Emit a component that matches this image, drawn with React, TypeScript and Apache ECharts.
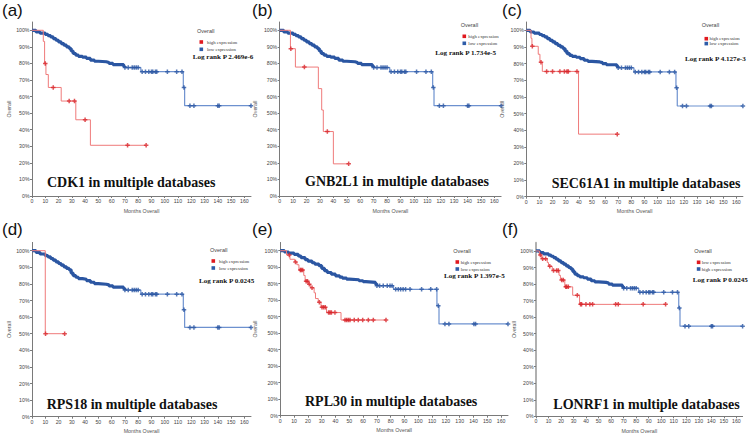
import React, { useEffect, useRef } from "react";
import * as echarts from "echarts";

// ---------- tick labels ----------
const monthTicks = [0, 10, 20, 30, 40, 50, 60, 70, 80, 90, 100, 110, 120, 130, 140, 150, 160];
const percentTicks = [0, 10, 20, 30, 40, 50, 60, 70, 80, 90, 100];

// ---------- texts ----------
const panelLetters = ["(a)", "(b)", "(c)", "(d)", "(e)", "(f)"];
const geneNames = ["CDK1", "GNB2L1", "SEC61A1", "RPS18", "RPL30", "LONRF1"];
const pValues = ["2.469e-6", "1.734e-5", "4.127e-3", "0.0245", "1.397e-5", "0.0245"];
const redLabels = ["high expression", "high expression", "high expression", "high expression", "high expression", "low expression"];
const blueLabels = ["low expression", "low expression", "low expression", "low expression", "low expression", "high expression"];

// ---------- survival data: [months, survival %] step points ----------
// blue group shared by panels a, b, c, f
const cohortSteps: [number, number][] = [
  [0, 100], [3, 99], [6, 98.3], [10, 97.5], [12, 96.8], [14, 96], [16, 95], [18, 94], [20, 93], [22, 92],
  [24, 91], [26, 90], [28, 89], [29.5, 87.5], [31, 86], [33, 85], [35, 84.3], [38, 83.8], [41, 83], [44, 82],
  [47, 81.3], [50, 81], [56, 80.6], [58, 80], [61, 79.3], [69, 78.3], [70, 77.5], [82, 75], [114, 65.5],
  [115, 54.5], [165, 54.5],
];
const cohortCensor = [70, 72.5, 75.5, 77, 78.5, 80, 83, 85.5, 88, 90, 91, 93, 94, 102, 109, 113, 114.5, 119, 122, 140, 141, 165];

const rps18LowSteps: [number, number][] = [
  [0, 100], [3, 99], [6, 98], [10, 97], [12, 96.3], [14, 95.3], [16, 94.3], [18, 93.3], [20, 92.3], [22, 91.3],
  [24, 90.3], [26, 89.3], [28, 88.5], [29.5, 86.5], [31, 85], [33, 84], [35, 83.2], [38, 82.8], [41, 82], [44, 81],
  [47, 80.2], [50, 79.8], [56, 79.4], [58, 78.8], [61, 78], [69, 77.2], [70, 76.3], [82, 73.8], [114, 64.5],
  [115, 53.8], [165, 53.8],
];
const rpl30LowSteps: [number, number][] = [
  [0, 100], [3, 99.2], [6, 98.5], [10, 97.8], [13, 96.8], [15, 95.8], [18, 94.6], [20, 93.7], [23, 92.7], [25, 91.9],
  [28, 90.9], [30, 89.3], [32, 87.9], [34, 86.8], [37, 85.8], [40, 84.8], [43, 84], [45, 83.4], [48, 82.8], [50, 82.4],
  [57, 81.8], [60, 81.2], [62, 80.8], [69, 79.8], [70, 78.8], [82, 76.6], [113.5, 66.7], [115, 55.6], [165, 55.6],
];
const rpl30LowCensor = [70, 72, 74.6, 77.5, 79.5, 81, 83.6, 85.5, 87.2, 89, 90.8, 94, 102.4, 109, 113.3, 114.5, 119.3, 122.2, 140.3, 141.5, 165];

const cdk1HighSteps: [number, number][] = [
  [0, 100], [8.5, 93.3], [9.5, 80], [10.5, 73.3], [12.3, 65.5], [22, 57.3], [33, 46], [44, 30.6], [86, 30.6],
];
const cdk1HighCensor = [10, 16, 28, 32, 40, 72, 86];

const gnb2l1HighSteps: [number, number][] = [
  [0, 100], [8, 88.9], [11.7, 77.8], [28.8, 64.8], [31.3, 51.9], [32.5, 38.9], [40, 19.4], [51.4, 19.4],
];
const gnb2l1HighCensor = [8.3, 18.4, 35.5, 51.4];

const sec61a1HighSteps: [number, number][] = [
  [0, 100], [3.6, 95.2], [4.3, 90.4], [9.1, 85.6], [10.4, 80.8], [12.2, 75.3], [39.8, 37.6], [69.3, 37.6],
];
const sec61a1HighCensor = [4.6, 11.2, 15.5, 20, 25.6, 29, 31, 32, 38.6, 69.3];

const rps18HighSteps: [number, number][] = [[0, 100], [10, 50], [24.6, 50]];
const rps18HighCensor = [10.2, 24.6];

const rpl30HighSteps: [number, number][] = [
  [0, 100], [4.5, 97.4], [7, 94.8], [10.5, 93.2], [12, 91.5], [13.5, 88.3], [17, 85], [18, 81.5], [20.5, 79.6],
  [22, 77.5], [24.5, 74.5], [25.5, 71], [27.5, 68.8], [29.5, 65.8], [33.5, 62.5], [44, 58], [76.6, 58],
];
const rpl30HighCensor = [
  6.5, 11, 14.5, 15.2, 16.2, 18.7, 19.7, 21, 23, 28.3, 30.2, 31.4, 32.6, 35, 36, 37, 39.6,
  46.9, 48.1, 49.3, 50.5, 53.6, 56.5, 59.7, 63.8, 67.4, 76.6,
];

const lonrf1RedSteps: [number, number][] = [
  [0, 100], [2.7, 97.6], [4.3, 95.3], [9, 93], [10, 90.7], [13, 88.2], [18.4, 85.3], [19.5, 82.5], [23, 78.3],
  [29.3, 73.2], [34.8, 67.7], [103.5, 67.7],
];
const lonrf1RedCensor = [3.5, 5.3, 7.7, 11, 14, 16.5, 17.8, 20.5, 21.8, 23.8, 24.5, 25.8, 33, 35.6, 36.4, 39.9, 43, 45.2, 63.6, 65.7, 85.6, 103.5];

const redSteps = [cdk1HighSteps, gnb2l1HighSteps, sec61a1HighSteps, rps18HighSteps, rpl30HighSteps, lonrf1RedSteps];
const redCensor = [cdk1HighCensor, gnb2l1HighCensor, sec61a1HighCensor, rps18HighCensor, rpl30HighCensor, lonrf1RedCensor];
const blueSteps = [cohortSteps, cohortSteps, cohortSteps, rps18LowSteps, rpl30LowSteps, cohortSteps];
const blueCensor = [cohortCensor, cohortCensor, cohortCensor, cohortCensor, rpl30LowCensor, cohortCensor];

// ---------- layout (styles, not data) ----------
const grids = [
  { left: 32, top: 22, width: 219, height: 174, nameGap: 21 },
  { left: 279.7, top: 22, width: 221.4, height: 174, nameGap: 22 },
  { left: 526.3, top: 22, width: 216.6, height: 174.7, nameGap: 21.5 },
  { left: 32, top: 242.4, width: 219, height: 174.3, nameGap: 21 },
  { left: 280.3, top: 242.45, width: 227.7, height: 173.25, nameGap: 23 },
  { left: 536, top: 242.7, width: 206.6, height: 173.6, nameGap: 19.5 },
];
const letterPos = [[2, 10], [252, 10], [502, 10], [2, 229], [252, 229], [502, 229]];
const titlePos = [[47, 182], [305, 181], [551.7, 183], [46.7, 404.7], [305, 401.7], [553.3, 404]];
const pPos = [[192.7, 56.7], [435.3, 52.7], [685, 59.3], [199, 280.7], [444, 276.3], [692.7, 279.7]];
// [overallX, overallY, squareX, redY, blueY, textX]
const legendPos = [
  [197, 31, 199.5, 42, 49.3, 207],
  [460.7, 25, 462.5, 36.3, 43.3, 468.3],
  [701.7, 25, 704.5, 38.7, 43.6, 709.5],
  [210, 249.7, 211.5, 261, 268, 219],
  [453.3, 251.3, 455.5, 262, 269, 460.7],
  [694.3, 251.3, 696.8, 262.3, 269, 701.7],
];

const RED_LINE = "#ef7a7a";
const RED_MARK = "#d8262b";
const BLUE_THIN = "#6d91cf";
const BLUE_DARK = "#2b56a2";
const DENSE_UNTIL = 70;
const PLUS = "path://M3,0h3v3h3v3h-3v3h-3v-3h-3v-3h3z";
const SANS = '"Liberation Sans", Arial, sans-serif';
const SERIF = '"Liberation Serif", "Times New Roman", serif';

function survAt(steps: [number, number][], t: number): number {
  let s = steps[0][1];
  for (const [x, y] of steps) {
    if (x <= t) s = y;
    else break;
  }
  return s;
}

function buildOption() {
  const grid: any[] = [];
  const xAxis: any[] = [];
  const yAxis: any[] = [];
  const series: any[] = [];
  const graphic: any[] = [];

  grids.forEach((g, i) => {
    grid.push({ left: g.left, top: g.top, width: g.width, height: g.height, containLabel: false, outerBoundsMode: "none" });
    const axisColor = i === 5 ? "#b0b0b0" : "#7a7a7a";
    xAxis.push({
      gridIndex: i, type: "value", min: 0, max: 165,
      name: "Months Overall", nameLocation: "middle", nameGap: 12,
      nameTextStyle: { fontSize: 5.3, color: "#555", fontFamily: SANS },
      axisLine: { show: true, onZero: false, lineStyle: { color: "#7a7a7a", width: 1 } },
      axisTick: { show: true, length: 2, customValues: monthTicks, lineStyle: { color: "#7a7a7a" } },
      axisLabel: { customValues: monthTicks, fontSize: 5.2, color: "#444", margin: 2.5, fontFamily: SANS },
      splitLine: { show: false },
    });
    yAxis.push({
      gridIndex: i, type: "value", min: 0, max: 105,
      name: "Overall", nameLocation: "middle", nameGap: g.nameGap, nameRotate: 90,
      nameTextStyle: { fontSize: 5.3, color: "#555", fontFamily: SANS },
      axisLine: { show: true, lineStyle: { color: axisColor, width: i === 5 ? 2 : 1 } },
      axisTick: { show: true, length: 2, customValues: percentTicks, lineStyle: { color: "#7a7a7a" } },
      axisLabel: { customValues: percentTicks, formatter: "{value}%", fontSize: 5.2, color: "#444", margin: 2.5, fontFamily: SANS },
      splitLine: { show: false },
    });

    const bSteps = blueSteps[i];
    series.push({
      type: "line", xAxisIndex: i, yAxisIndex: i, step: "end", data: bSteps, symbol: "none",
      lineStyle: { color: BLUE_THIN, width: 1.2 }, z: 2,
    });
    series.push({
      type: "line", xAxisIndex: i, yAxisIndex: i, step: "end",
      data: bSteps.filter((p) => p[0] <= DENSE_UNTIL), symbol: "none",
      lineStyle: { color: BLUE_DARK, width: 3.2, cap: "butt" }, z: 3,
    });
    series.push({
      type: "scatter", xAxisIndex: i, yAxisIndex: i, clip: false,
      data: blueCensor[i].map((t) => [t, survAt(bSteps, t)]),
      symbol: PLUS, symbolSize: 4.5, itemStyle: { color: BLUE_DARK }, z: 4,
    });
    const rSteps = redSteps[i];
    series.push({
      type: "line", xAxisIndex: i, yAxisIndex: i, step: "end", data: rSteps, symbol: "none",
      lineStyle: { color: RED_LINE, width: 1 }, z: 5,
    });
    series.push({
      type: "scatter", xAxisIndex: i, yAxisIndex: i, clip: false,
      data: redCensor[i].map((t) => [t, survAt(rSteps, t)]),
      symbol: PLUS, symbolSize: 4.5, itemStyle: { color: RED_MARK }, z: 6,
    });

    // panel letter
    graphic.push({
      type: "text", x: letterPos[i][0], y: letterPos[i][1],
      style: { text: panelLetters[i], fontSize: 17, fontFamily: SANS, fill: "#111", verticalAlign: "middle", align: "left" },
    });
    // big title
    graphic.push({
      type: "text", x: titlePos[i][0], y: titlePos[i][1], z: 10,
      style: { text: `${geneNames[i]} in multiple databases`, fontSize: 14, fontWeight: "bold", fontFamily: SERIF, fill: "#111", verticalAlign: "middle", align: "left" },
    });
    // log rank
    graphic.push({
      type: "text", x: pPos[i][0], y: pPos[i][1], z: 10,
      style: { text: `Log rank P ${pValues[i]}`, fontSize: 7.1, fontWeight: "bold", fontFamily: SERIF, fill: "#111", verticalAlign: "middle", align: "left" },
    });
    // legend
    const [ox, oy, sx, ry, by, tx] = legendPos[i];
    graphic.push({
      type: "text", x: ox, y: oy,
      style: { text: "Overall", fontSize: 5.5, fontFamily: SANS, fill: "#444", verticalAlign: "middle", align: "left" },
    });
    graphic.push({ type: "rect", shape: { x: sx, y: ry - 1.8, width: 3.6, height: 3.6 }, style: { fill: "#e0191f" } });
    graphic.push({ type: "rect", shape: { x: sx, y: by - 1.8, width: 3.6, height: 3.6 }, style: { fill: "#2e5ca8" } });
    graphic.push({
      type: "text", x: tx, y: ry,
      style: { text: redLabels[i], fontSize: 4.8, fontFamily: SERIF, fill: "#333", verticalAlign: "middle", align: "left" },
    });
    graphic.push({
      type: "text", x: tx, y: by,
      style: { text: blueLabels[i], fontSize: 4.8, fontFamily: SERIF, fill: "#333", verticalAlign: "middle", align: "left" },
    });
  });

  return { animation: false, backgroundColor: "#ffffff", grid, xAxis, yAxis, series, graphic };
}

export default function App() {
  const ref = useRef<HTMLDivElement>(null);
  useEffect(() => {
    document.body.style.margin = "0";
    if (!ref.current) return;
    const chart = echarts.init(ref.current, undefined, { renderer: "svg" });
    chart.setOption(buildOption() as any);
    return () => chart.dispose();
  }, []);
  return <div ref={ref} style={{ position: "fixed", left: 0, top: 0, width: 750, height: 438 }} />;
}
